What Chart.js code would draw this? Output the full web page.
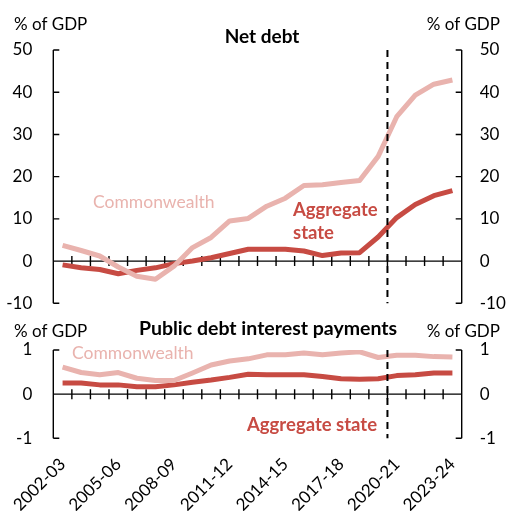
<!DOCTYPE html>
<html>
<head>
<meta charset="utf-8">
<script src="https://cdn.jsdelivr.net/npm/chart.js@4.4.1/dist/chart.umd.min.js"></script>
<style>
  html, body { margin: 0; padding: 0; background: #fff; }
  #wrap { position: relative; width: 510px; height: 511px; overflow: hidden; background: #fff; }
  #wrap canvas { position: absolute; left: 0; top: 0; }
</style>
</head>
<body>
<div id="wrap">
  <canvas id="debt" width="510" height="511"></canvas>
  <canvas id="interest" width="510" height="511"></canvas>
</div>
<script>
// Financial years
const years = [
  '2002-03','2003-04','2004-05','2005-06','2006-07','2007-08','2008-09','2009-10',
  '2010-11','2011-12','2012-13','2013-14','2014-15','2015-16','2016-17','2017-18',
  '2018-19','2019-20','2020-21','2021-22','2022-23','2023-24'
];
// Projections start from this year (dashed divider)
const projectionStart = '2020-21';

// Net debt, % of GDP
const netDebtCommonwealth = [3.7, 2.5, 1.2, -1.4, -3.6, -4.3, -1.2, 3.2, 5.6, 9.5, 10.1, 13.0, 14.9, 17.9, 18.1, 18.6, 19.1, 24.8, 34.2, 39.3, 41.9, 42.9];
const netDebtStates      = [-0.9, -1.6, -2.0, -3.0, -2.2, -1.6, -0.6, 0.0, 0.8, 1.8, 2.8, 2.8, 2.8, 2.4, 1.3, 1.9, 2.0, 5.7, 10.3, 13.4, 15.5, 16.7];

// Public debt interest payments, % of GDP
const interestCommonwealth = [0.61, 0.49, 0.44, 0.49, 0.36, 0.31, 0.31, 0.48, 0.66, 0.75, 0.80, 0.89, 0.89, 0.93, 0.89, 0.93, 0.96, 0.83, 0.88, 0.88, 0.85, 0.84];
const interestStates       = [0.25, 0.25, 0.21, 0.21, 0.17, 0.17, 0.21, 0.27, 0.32, 0.38, 0.45, 0.44, 0.44, 0.44, 0.40, 0.35, 0.34, 0.35, 0.42, 0.44, 0.48, 0.48];

// Axis ranges
const debtTicks = { min: -10, max: 50, step: 10 };
const interestTicks = { min: -1, max: 1, step: 1 };

const FONT = 'Lato';
const PINK = '#E9B3AE';
const RED = '#C74B43';
Chart.defaults.font.family = FONT;
Chart.defaults.color = '#000';

const AXIS_LEFT = 53.3;
const AXIS_RIGHT = 461.7;

// Axis lines, tick marks, zero line and projection divider
const framePlugin = {
  id: 'frame',
  beforeDatasetsDraw(chart) {
    const { ctx, chartArea: { left, right, top, bottom }, scales: { x, y } } = chart;
    ctx.save();
    ctx.strokeStyle = '#000';
    ctx.lineWidth = 1.4;
    ctx.beginPath();
    ctx.moveTo(left, top); ctx.lineTo(left, bottom);
    ctx.moveTo(right, top); ctx.lineTo(right, bottom);
    y.ticks.forEach(t => {
      const py = y.getPixelForValue(t.value);
      ctx.moveTo(left, py); ctx.lineTo(left + 6, py);
      ctx.moveTo(right, py); ctx.lineTo(right - 6, py);
    });
    const y0 = y.getPixelForValue(0);
    ctx.moveTo(left, y0); ctx.lineTo(right, y0);
    for (let i = 1; i < years.length; i++) {
      const px = (x.getPixelForValue(i - 1) + x.getPixelForValue(i)) / 2;
      ctx.moveTo(px, y0 - 5); ctx.lineTo(px, y0 + 5);
    }
    ctx.stroke();
    ctx.restore();
  },
  afterDatasetsDraw(chart) {
    const { ctx, chartArea: { top, bottom }, scales: { x } } = chart;
    const i = years.indexOf(projectionStart);
    const px = (x.getPixelForValue(i - 1) + x.getPixelForValue(i)) / 2;
    ctx.save();
    ctx.strokeStyle = '#000';
    ctx.lineWidth = 2;
    ctx.setLineDash([7, 5]);
    ctx.beginPath();
    ctx.moveTo(px, top); ctx.lineTo(px, bottom);
    ctx.stroke();
    ctx.restore();
  }
};

// Free-standing text: unit labels, panel titles and series names
function textPlugin(items) {
  return {
    id: 'texts',
    afterDraw(chart) {
      const ctx = chart.ctx;
      ctx.save();
      ctx.textBaseline = 'alphabetic';
      items.forEach(it => {
        ctx.font = (it.bold ? 'bold ' : '') + it.size + 'px ' + FONT;
        ctx.fillStyle = it.color || '#000';
        ctx.textAlign = it.align || 'left';
        ctx.fillText(it.text, it.x, it.y);
      });
      ctx.restore();
    }
  };
}

function yScale(range, position, padding, width) {
  return {
    type: 'linear',
    position,
    min: range.min,
    max: range.max,
    ticks: { stepSize: range.step, padding, font: { size: 17 }, color: '#000' },
    grid: { display: false, drawTicks: false },
    border: { display: false },
    afterFit(s) { s.width = width; }
  };
}

function lineDataset(label, data, color) {
  return {
    label, data,
    borderColor: color,
    backgroundColor: color,
    borderWidth: 5,
    pointRadius: 0,
    tension: 0,
    borderJoinStyle: 'round',
    fill: false
  };
}

// Top panel: net debt
new Chart(document.getElementById('debt'), {
  type: 'line',
  data: {
    labels: years,
    datasets: [
      lineDataset('Commonwealth', netDebtCommonwealth, PINK),
      lineDataset('Aggregate state', netDebtStates, RED)
    ]
  },
  options: {
    responsive: false,
    animation: false,
    events: [],
    layout: { padding: { top: 50, bottom: 511 - 303.3, left: 0, right: 0 } },
    plugins: { legend: { display: false }, tooltip: { enabled: false } },
    scales: {
      x: { type: 'category', offset: true, display: false },
      y: yScale(debtTicks, 'left', 21, AXIS_LEFT),
      y2: yScale(debtTicks, 'right', 18, 510 - AXIS_RIGHT)
    }
  },
  plugins: [framePlugin, textPlugin([
    { text: '% of GDP', x: 14, y: 30, size: 17 },
    { text: '% of GDP', x: 500, y: 30, size: 17, align: 'right' },
    { text: 'Net debt', x: 262, y: 42.5, size: 19, bold: true, align: 'center' },
    { text: 'Commonwealth', x: 93, y: 208, size: 17.5, color: PINK },
    { text: 'Aggregate', x: 293, y: 215.5, size: 18.5, bold: true, color: RED },
    { text: 'state', x: 293, y: 239, size: 18.5, bold: true, color: RED }
  ])]
});

// Bottom panel: public debt interest payments
new Chart(document.getElementById('interest'), {
  type: 'line',
  data: {
    labels: years,
    datasets: [
      lineDataset('Commonwealth', interestCommonwealth, PINK),
      lineDataset('Aggregate state', interestStates, RED)
    ]
  },
  options: {
    responsive: false,
    animation: false,
    events: [],
    layout: { padding: { top: 350, bottom: 0, left: 0, right: 0 } },
    plugins: { legend: { display: false }, tooltip: { enabled: false } },
    scales: {
      x: {
        type: 'category',
        offset: true,
        position: 'bottom',
        grid: { display: false },
        border: { display: false },
        ticks: {
          autoSkip: false,
          maxRotation: 45,
          minRotation: 45,
          padding: 8,
          font: { size: 17 },
          color: '#000',
          callback(value, index) { return index % 3 === 0 ? years[index] : ''; }
        },
        afterFit(s) { s.height = 511 - 438.3; }
      },
      y: yScale(interestTicks, 'left', 21, AXIS_LEFT),
      y2: yScale(interestTicks, 'right', 18, 510 - AXIS_RIGHT)
    }
  },
  plugins: [framePlugin, textPlugin([
    { text: '% of GDP', x: 14, y: 337, size: 17 },
    { text: '% of GDP', x: 500, y: 337, size: 17, align: 'right' },
    { text: 'Public debt interest payments', x: 268, y: 334.5, size: 19.5, bold: true, align: 'center' },
    { text: 'Commonwealth', x: 72, y: 358.5, size: 17.5, color: PINK },
    { text: 'Aggregate state', x: 247, y: 431, size: 18.5, bold: true, color: RED }
  ])]
});
</script>
</body>
</html>
